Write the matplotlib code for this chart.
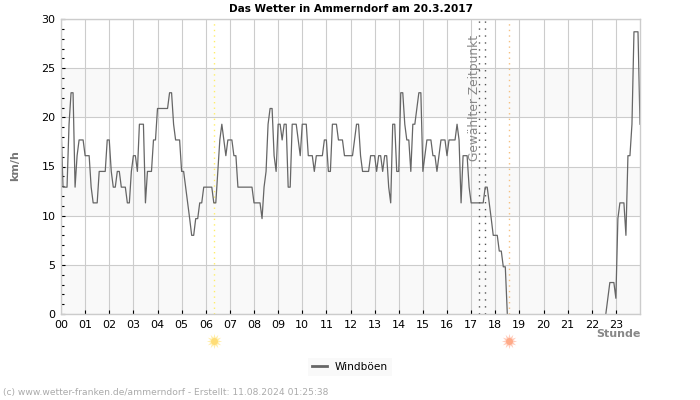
#!/usr/bin/env python

import numpy as np
import matplotlib
matplotlib.use("Agg")
import matplotlib.pyplot as plt

# wind gusts in km/h, one row per hour, 5 minute steps
h00 = [19.3, 12.9, 12.9, 12.9, 19.3, 22.5, 22.5, 12.9, 16.1, 17.7, 17.7, 17.7]
h01 = [16.1, 16.1, 16.1, 12.9, 11.3, 11.3, 11.3, 14.5, 14.5, 14.5, 14.5, 17.7]
h02 = [17.7, 14.5, 12.9, 12.9, 14.5, 14.5, 12.9, 12.9, 12.9, 11.3, 11.3, 14.5]
h03 = [16.1, 16.1, 14.5, 19.3, 19.3, 19.3, 11.3, 14.5, 14.5, 14.5, 17.7, 17.7]
h04 = [20.9, 20.9, 20.9, 20.9, 20.9, 20.9, 22.5, 22.5, 19.3, 17.7, 17.7, 17.7]
h05 = [14.5, 14.5, 12.9, 11.3, 9.7, 8.0, 8.0, 9.7, 9.7, 11.3, 11.3, 12.9]
h06 = [12.9, 12.9, 12.9, 12.9, 11.3, 11.3, 14.5, 17.7, 19.3, 17.7, 16.1, 17.7]
h07 = [17.7, 17.7, 16.1, 16.1, 12.9, 12.9, 12.9, 12.9, 12.9, 12.9, 12.9, 12.9]
h08 = [11.3, 11.3, 11.3, 11.3, 9.7, 12.9, 14.5, 19.3, 20.9, 20.9, 16.1, 14.5]
h09 = [19.3, 19.3, 17.7, 19.3, 19.3, 12.9, 12.9, 19.3, 19.3, 19.3, 17.7, 16.1]
h10 = [19.3, 19.3, 19.3, 16.1, 16.1, 16.1, 14.5, 16.1, 16.1, 16.1, 16.1, 17.7]
h11 = [17.7, 14.5, 14.5, 19.3, 19.3, 19.3, 17.7, 17.7, 17.7, 16.1, 16.1, 16.1]
h12 = [16.1, 16.1, 17.7, 19.3, 19.3, 16.1, 14.5, 14.5, 14.5, 14.5, 16.1, 16.1]
h13 = [16.1, 14.5, 16.1, 16.1, 14.5, 16.1, 16.1, 12.9, 11.3, 19.3, 19.3, 14.5]
h14 = [14.5, 22.5, 22.5, 19.3, 17.7, 17.7, 14.5, 19.3, 19.3, 20.9, 22.5, 22.5]
h15 = [14.5, 16.1, 17.7, 17.7, 17.7, 16.1, 16.1, 14.5, 16.1, 17.7, 17.7, 17.7]
h16 = [16.1, 17.7, 17.7, 17.7, 17.7, 19.3, 17.7, 11.3, 16.1, 16.1, 16.1, 12.9]
h17 = [11.3, 11.3, 11.3, 11.3, 11.3, 11.3, 11.3, 12.9, 12.9, 11.3, 9.7, 8.0]
h18 = [8.0, 8.0, 6.4, 6.4, 4.8, 4.8, 0, 0, 0, 0, 0, 0]
h19 = [0] * 12
h20 = [0] * 12
h21 = [0] * 12
h22 = [0, 0, 0, 0, 0, 0, 0, 0, 1.6, 3.2, 3.2, 3.2]
h23 = [1.6, 9.7, 11.3, 11.3, 11.3, 8.0, 16.1, 16.1, 19.3, 28.7, 28.7, 28.7, 19.3]

gusts = np.array(h00 + h01 + h02 + h03 + h04 + h05 + h06 + h07 + h08 + h09 + h10 + h11
                 + h12 + h13 + h14 + h15 + h16 + h17 + h18 + h19 + h20 + h21 + h22 + h23)
hours = np.arange(len(gusts)) / 12

hour_labels = ["%02d" % i for i in range(24)]
sunrise = 6.33
sunset = 18.58
selected = [17.33, 17.58]

fig = plt.figure(figsize=(7, 4), dpi=100)
ax = fig.add_axes([61 / 700, 1 - 314 / 400, 579 / 700, 295 / 400])

for low in [0, 10, 20]:
    ax.axhspan(low, low + 5, color="#f9f9f9", lw=0, zorder=0)
ax.grid(True, color="#cccccc", lw=0.8, zorder=1)
ax.set_axisbelow(True)

ax.axvline(sunrise, color="#ffee66", lw=1, ls=(0, (1, 3)), zorder=2)
ax.axvline(sunset, color="#f5c080", lw=1, ls=(0, (1, 3)), zorder=2)
for t in selected:
    ax.axvline(t, color="#555555", lw=1, ls=(0, (1, 4)), zorder=2)

# calm stretches run along the axis, the original shows no line there
shown = gusts.copy()
calm = (gusts == 0) & (np.roll(gusts, 1) == 0) & (np.roll(gusts, -1) == 0)
shown[calm] = np.nan
ax.plot(hours, shown, color="#666666", lw=0.9, label="Windböen", zorder=3)

ax.set_xlim(0, 24)
ax.set_ylim(0, 30)
ax.set_xticks(range(24))
ax.set_xticklabels(hour_labels)
ax.set_yticks(range(0, 31, 5))
ax.set_yticks(range(0, 31), minor=True)
ax.tick_params(axis="both", which="major", direction="in", length=3, width=0.8,
               labelsize=8, color="black", pad=4)
ax.tick_params(axis="y", which="minor", direction="in", length=2.5, width=0.8, color="black")
ax.tick_params(axis="x", which="major", pad=4)
ax.xaxis.get_major_ticks()[0].tick1line.set_visible(False)

for side in ax.spines.values():
    side.set_color("#cccccc")
    side.set_linewidth(1)
    side.set_zorder(4)

ax.set_title("Das Wetter in Ammerndorf am 20.3.2017", fontsize=7.6, fontweight="bold", pad=5)

ax.text(16.85, 28.4, "Gewählter Zeitpunkt", rotation=90, color="#888888", fontsize=8.8,
        ha="left", va="top", zorder=3)

fig.text(15 / 700, 1 - 166 / 400, "km/h", rotation=90, fontsize=8, fontweight="bold",
         color="#777777", ha="center", va="center")
fig.text(618 / 700, 1 - 334 / 400, "Stunde", fontsize=8, fontweight="bold",
         color="#888888", ha="center", va="center")

# sun markers below the axis
for t, col, core in [(sunrise, "#ffeeaa", "#ffdd77"), (sunset, "#ffccbb", "#ffaa88")]:
    ax.plot([t], [-2.75], marker=(12, 1, 0), ms=11, color=col, mew=0, clip_on=False)
    ax.plot([t], [-2.75], marker="o", ms=5, color=core, mew=0, clip_on=False)

leg = fig.legend(loc="center", bbox_to_anchor=(350 / 700, 1 - 367 / 400), fontsize=7.6,
                 frameon=True, facecolor="#f9f9f9", edgecolor="none", framealpha=1,
                 fancybox=False, handlelength=1.4, borderpad=0.4)
for line in leg.get_lines():
    line.set_linewidth(2)

fig.text(3 / 700, 1 - 393 / 400, "(c) www.wetter-franken.de/ammerndorf - Erstellt: 11.08.2024 01:25:38",
         fontsize=6.6, color="#aaaaaa", ha="left", va="center")

fig.savefig("out.png", dpi=100)
